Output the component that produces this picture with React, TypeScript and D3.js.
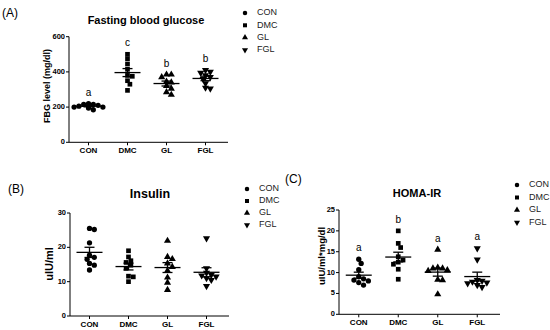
import React from 'react';
import * as d3 from 'd3';

// groups
const groups = ['CON', 'DMC', 'GL', 'FGL'];

// (A) fasting blood glucose, mg/dl
const fbgCON = [220, 215, 215, 210, 205, 200, 200, 195, 185];
const fbgDMC = [500, 475, 445, 415, 380, 375, 350, 330, 295];
const fbgGL = [385, 385, 370, 345, 340, 320, 305, 285, 270];
const fbgFGL = [410, 400, 395, 380, 370, 360, 335, 310, 305];
const fbgLetters = ['a', 'c', 'b', 'b'];
const fbgTicks = [0, 200, 400, 600];

// (B) insulin, uIU/ml
const insCON = [25.2, 25.5, 21.3, 17.7, 17.1, 16.5, 15.3, 14.8, 13.4];
const insDMC = [19.0, 17.2, 16.1, 15.6, 14.8, 13.9, 11.6, 11.4, 10.0];
const insGL = [21.9, 17.2, 16.6, 15.3, 14.3, 13.2, 11.2, 9.7, 7.6];
const insFGL = [22.6, 13.9, 12.6, 12.0, 11.8, 11.5, 11.0, 10.5, 8.7];
const insTicks = [0, 10, 20, 30];

// (C) HOMA-IR
const homaCON = [13.2, 12.2, 10.7, 9.0, 8.5, 8.2, 8.0, 7.6, 7.0];
const homaDMC = [20.0, 17.0, 16.0, 13.8, 13.0, 12.5, 12.0, 10.8, 8.4];
const homaGL = [15.5, 11.2, 11.0, 11.0, 10.6, 10.4, 8.3, 8.2, 4.8];
const homaFGL = [15.8, 13.1, 8.2, 8.0, 7.8, 7.6, 7.4, 7.0, 6.5];
const homaLetters = ['a', 'b', 'a', 'a'];
const homaTicks = [0, 5, 10, 15, 20, 25];

const FONT = '"Liberation Sans", Arial, sans-serif';

// 마커 모양 (원, 사각형, 삼각형, 역삼각형)
const symbolTypes = [d3.symbolCircle, d3.symbolSquare, d3.symbolTriangle, d3.symbolTriangle];
const symbolPath = (i: number, size = 22) => d3.symbol().type(symbolTypes[i]).size(size)() as string;
const symbolRotate = (i: number) => (i === 3 ? ' rotate(180)' : '');

// 간단한 beeswarm 배치: 겹치지 않도록 좌우로 밀어냄
function swarm(values: number[], y: (v: number) => number, step: number, minDist: number) {
  const order = values.map((v, i) => ({ i, py: y(v) })).sort((a, b) => a.py - b.py);
  const placed: { x: number; y: number }[] = [];
  const dx: number[] = new Array(values.length).fill(0);
  for (const p of order) {
    for (let k = 0; k < 30; k++) {
      const off = k === 0 ? 0 : (k % 2 === 1 ? 1 : -1) * Math.ceil(k / 2) * step;
      if (!placed.some((q) => Math.hypot(q.x - off, q.y - p.py) < minDist)) {
        dx[p.i] = off;
        placed.push({ x: off, y: p.py });
        break;
      }
    }
  }
  return dx;
}

interface PanelProps {
  label: string;
  labelX: number;
  labelY: number;
  title: string;
  titleX: number;
  titleY: number;
  titleSize: number;
  yLabel: string;
  yLabelX: number;
  yLabelY: number;
  yLabelSize: number;
  series: number[][];
  ticks: number[];
  letters?: string[];
  x0: number;
  x1: number;
  yTop: number;
  yBottom: number;
  legendX: number;
  legendY: number;
  legendStep: number;
}

function Panel(p: PanelProps) {
  const yMax = p.ticks[p.ticks.length - 1];
  const y = d3.scaleLinear().domain([0, yMax]).range([p.yBottom, p.yTop]);
  const x = d3.scalePoint<string>().domain(groups).range([p.x0, p.x1]).padding(0.5);

  return (
    <g fontFamily={FONT}>
      <text x={p.labelX} y={p.labelY} fontSize={12}>
        {p.label}
      </text>
      <text x={p.titleX} y={p.titleY} fontSize={p.titleSize} fontWeight="bold" textAnchor="middle">
        {p.title}
      </text>
      <text
        transform={`translate(${p.yLabelX},${p.yLabelY}) rotate(-90)`}
        fontSize={p.yLabelSize}
        fontWeight="bold"
        textAnchor="middle"
        dominantBaseline="middle">
        {p.yLabel}
      </text>

      {/* y 축 */}
      <line x1={p.x0} x2={p.x0} y1={y(yMax)} y2={y(0)} stroke="#000" strokeWidth={1} />
      {p.ticks.map((t) => (
        <g key={t}>
          <line x1={p.x0 - 3} x2={p.x0} y1={y(t)} y2={y(t)} stroke="#000" />
          <text
            x={p.x0 - 4}
            y={y(t)}
            fontSize={7.5}
            fontWeight="bold"
            textAnchor="end"
            dominantBaseline="middle">
            {t}
          </text>
        </g>
      ))}

      {/* x 축 */}
      <line x1={p.x0} x2={p.x1 + 3} y1={p.yBottom} y2={p.yBottom} stroke="#000" strokeWidth={1} />
      {groups.map((g) => (
        <g key={g}>
          <line x1={x(g)} x2={x(g)} y1={p.yBottom} y2={p.yBottom + 3} stroke="#000" />
          <text x={x(g)} y={p.yBottom + 11} fontSize={8} fontWeight="bold" textAnchor="middle">
            {g}
          </text>
        </g>
      ))}

      {/* 점, 평균, SEM */}
      {p.series.map((vals, gi) => {
        const cx = x(groups[gi]) as number;
        const dx = swarm(vals, y, 2.4, 4.2);
        const mean = d3.mean(vals) as number;
        const sem = (d3.deviation(vals) as number) / Math.sqrt(vals.length);
        const top = y(d3.max(vals) as number);
        return (
          <g key={gi}>
            {vals.map((v, i) => (
              <path
                key={i}
                d={symbolPath(gi)}
                transform={`translate(${cx + dx[i]},${y(v)})${symbolRotate(gi)}`}
                fill="#000"
              />
            ))}
            <line x1={cx - 13} x2={cx + 13} y1={y(mean)} y2={y(mean)} stroke="#000" strokeWidth={1.3} />
            <line x1={cx} x2={cx} y1={y(mean - sem)} y2={y(mean + sem)} stroke="#000" strokeWidth={1.3} />
            <line x1={cx - 5} x2={cx + 5} y1={y(mean + sem)} y2={y(mean + sem)} stroke="#000" strokeWidth={1.3} />
            <line x1={cx - 5} x2={cx + 5} y1={y(mean - sem)} y2={y(mean - sem)} stroke="#000" strokeWidth={1.3} />
            {p.letters && (
              <text x={cx} y={top - 8} fontSize={10} textAnchor="middle">
                {p.letters[gi]}
              </text>
            )}
          </g>
        );
      })}

      {/* 범례 */}
      {groups.map((g, i) => (
        <g key={g} transform={`translate(${p.legendX},${p.legendY + i * p.legendStep})`}>
          <path d={symbolPath(i, 16)} transform={`translate(0,0)${symbolRotate(i)}`} fill="#000" />
          <text x={12} y={0} fontSize={9} dominantBaseline="middle" fill="#222">
            {g}
          </text>
        </g>
      ))}
    </g>
  );
}

export default function App() {
  return (
    <svg width={550} height={330} style={{ position: 'absolute', left: 0, top: 0, background: '#fff' }}>
      <Panel
        label="(A)"
        labelX={2}
        labelY={17}
        title="Fasting blood glucose"
        titleX={146}
        titleY={24}
        titleSize={11}
        yLabel="FBG level (mg/dl)"
        yLabelX={48}
        yLabelY={86}
        yLabelSize={9}
        series={[fbgCON, fbgDMC, fbgGL, fbgFGL]}
        ticks={fbgTicks}
        letters={fbgLetters}
        x0={69}
        x1={225}
        yTop={36.7}
        yBottom={142.3}
        legendX={245}
        legendY={13}
        legendStep={12.3}
      />
      <Panel
        label="(B)"
        labelX={8}
        labelY={193}
        title="Insulin"
        titleX={150}
        titleY={198}
        titleSize={12.5}
        yLabel="uIU/ml"
        yLabelX={50}
        yLabelY={264}
        yLabelSize={11}
        series={[insCON, insDMC, insGL, insFGL]}
        ticks={insTicks}
        x0={70}
        x1={226}
        yTop={213}
        yBottom={316}
        legendX={247}
        legendY={189}
        legendStep={12}
      />
      <Panel
        label="(C)"
        labelX={285}
        labelY={183}
        title="HOMA-IR"
        titleX={417}
        titleY={197}
        titleSize={11}
        yLabel="uIU/ml*mg/dl"
        yLabelX={322}
        yLabelY={256}
        yLabelSize={9.5}
        series={[homaCON, homaDMC, homaGL, homaFGL]}
        ticks={homaTicks}
        letters={homaLetters}
        x0={339}
        x1={497}
        yTop={210}
        yBottom={314.3}
        legendX={517}
        legendY={185}
        legendStep={12.5}
      />
    </svg>
  );
}
